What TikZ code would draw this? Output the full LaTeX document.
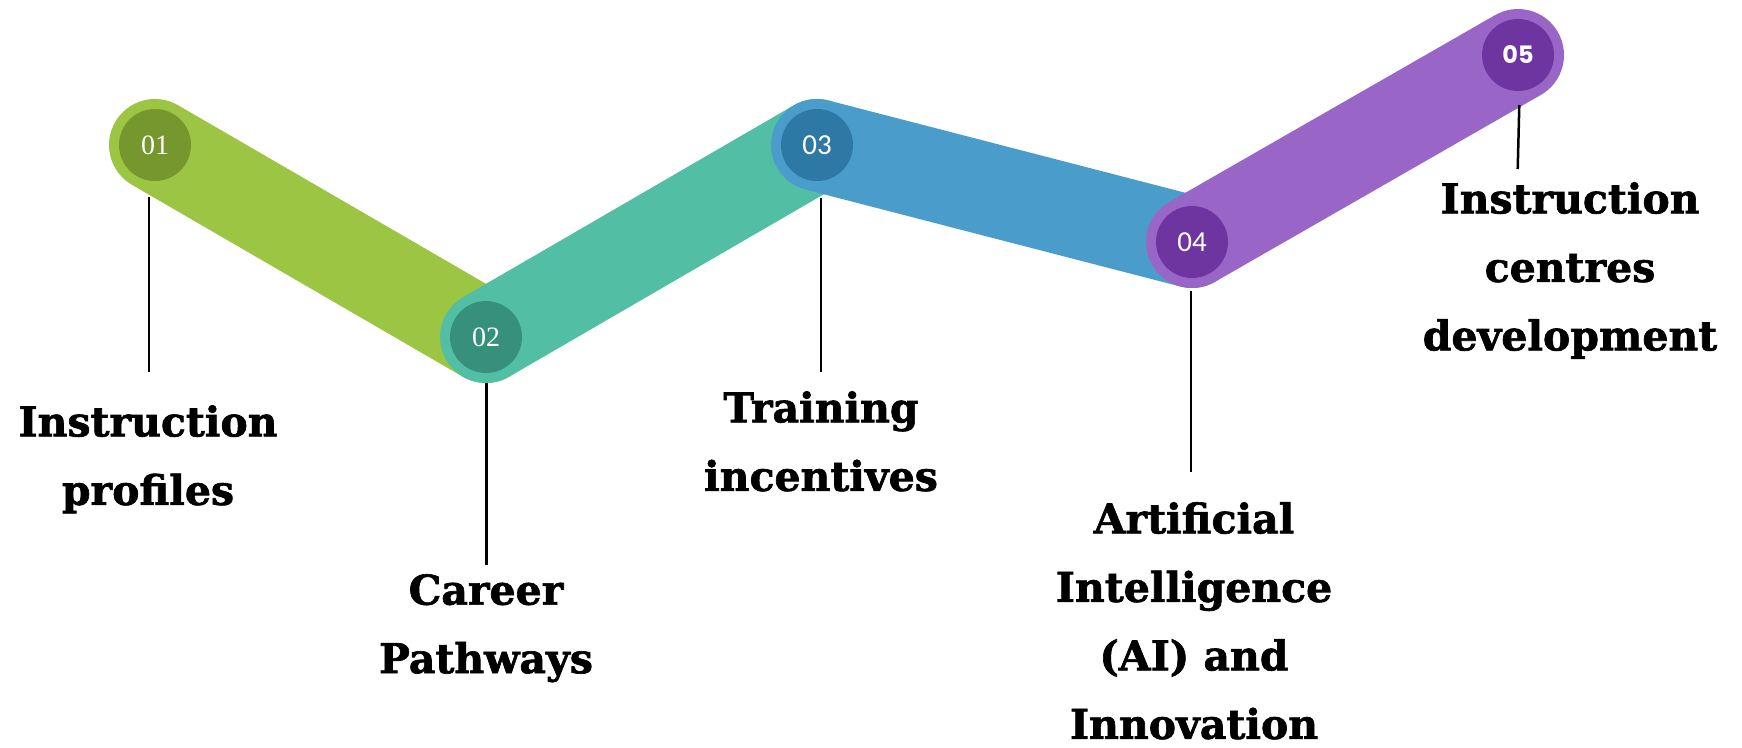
\documentclass[tikz,border=0pt]{standalone}
\usepackage{fontspec}
\setmainfont{DejaVu Serif}[BoldFeatures={FakeBold=1.6}]
\newfontfamily\numserif{Liberation Serif}
\newfontfamily\numlight{Carlito}
\newfontfamily\numsans{Poppins}
\definecolor{gband}{HTML}{9DC544}
\definecolor{gdot}{HTML}{76962E}
\definecolor{tband}{HTML}{52BFA5}
\definecolor{tdot}{HTML}{37917A}
\definecolor{bband}{HTML}{4A9CCB}
\definecolor{bdot}{HTML}{2E78A5}
\definecolor{pband}{HTML}{9966C8}
\definecolor{pdot}{HTML}{6E35A0}
\tikzset{
  band/.style={line width=92pt, line cap=round},
  dot/.style={circle, inner sep=0pt, minimum size=72pt, text=white, font=\numserif\fontsize{28}{28}\selectfont},
  lightnum/.style={font=\numlight\fontsize{29}{29}\selectfont},
  lbl/.style={align=center, inner sep=0pt, anchor=north, font=\bfseries\fontsize{41}{68.5}\selectfont},
  tick/.style={line width=2.5pt, black}
}
\begin{document}
\begin{tikzpicture}[x=1pt,y=-1pt]
\useasboundingbox (0,0) rectangle (1742,747);
% band centres
\coordinate (p1) at (155,145);
\coordinate (p2) at (486,337);
\coordinate (p3) at (817,145);
\coordinate (p4) at (1192,242);
\coordinate (p5) at (1518,55);
\draw[band, gband] (p1) -- (p2);
\draw[band, tband] (p2) -- (p3);
\draw[band, bband] (p3) -- (p4);
\draw[band, pband] (p4) -- (p5);
\node[dot, fill=gdot] (c1) at (p1) {01};
\node[dot, fill=tdot] (c2) at (p2) {02};
\node[dot, fill=bdot, lightnum] (c3) at (p3) {03};
\node[dot, fill=pdot, lightnum] (c4) at (p4) {04};
\node[dot, fill=pdot, font=\numsans\bfseries\fontsize{24}{24}\selectfont] (c5) at (p5) {05};
% labels
\node[lbl] (l1) at (148,405) {Instruction\\profiles};
\node[lbl] (l2) at (486,574) {Career\\Pathways};
\node[lbl] (l3) at (821,391) {Training\\incentives};
\node[lbl] (l4) at (1194,502) {Artificial\\Intelligence\\(AI) and\\Innovation};
\node[lbl] (l5) at (1570,182) {Instruction\\centres\\development};
% ticks
\coordinate (t1) at (149,197); \coordinate (b1) at (149,372);
\coordinate (t2) at (486.6,383); \coordinate (b2) at (486.6,565);
\coordinate (t3) at (821,198); \coordinate (b3) at (821,372);
\coordinate (t4) at (1191,291); \coordinate (b4) at (1191,472);
\coordinate (t5) at (1519.3,105); \coordinate (b5) at (1517.7,169);
\draw[tick] (t1) -- (b1);
\draw[tick] (t2) -- (b2);
\draw[tick] (t3) -- (b3);
\draw[tick] (t4) -- (b4);
\draw[tick] (t5) -- (b5);
\end{tikzpicture}
\end{document}
